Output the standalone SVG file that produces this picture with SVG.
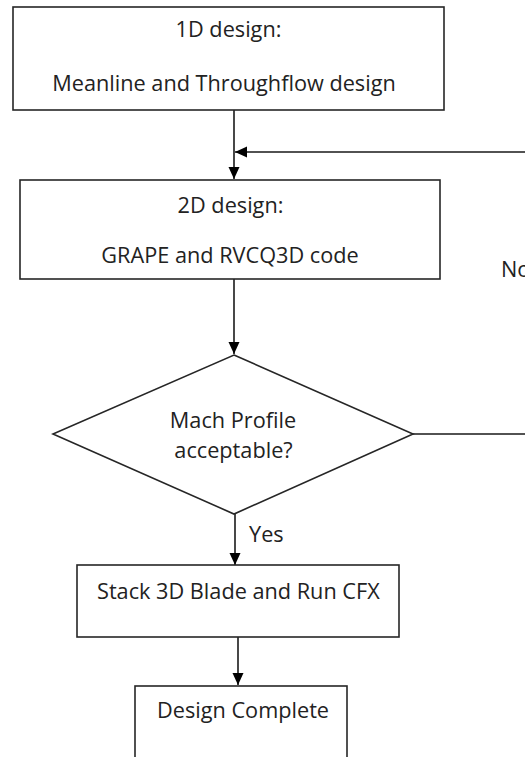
<svg xmlns="http://www.w3.org/2000/svg" width="525" height="757" viewBox="0 0 525 757">
<defs>
<style>
.box{fill:#fff;stroke:#262626;stroke-width:1.6}
.t{font-family:"Open Sans","Liberation Sans",sans-serif;font-size:21.7px;fill:#222}
.c{text-anchor:middle}
.ln{fill:none;stroke:#1a1a1a;stroke-width:1.6}
</style>
<marker id="ah" markerUnits="userSpaceOnUse" markerWidth="12" markerHeight="12" viewBox="0 0 12 12" refX="12" refY="6" orient="auto">
<path d="M0,0.5 L12,6 L0,11.5 Z" fill="#000"/>
</marker>
</defs>
<rect width="525" height="757" fill="#fff"/>
<g id="connectors">
<path class="ln" d="M234,110 V179" marker-end="url(#ah)"/>
<path class="ln" d="M413,434 H545 V152 H235" marker-end="url(#ah)"/>
<path class="ln" d="M234,279 V354" marker-end="url(#ah)"/>
<path class="ln" d="M235,514 V565" marker-end="url(#ah)"/>
<path class="ln" d="M238,637 V685" marker-end="url(#ah)"/>
<text class="t" x="249" y="542">Yes</text>
<text class="t" x="501" y="277">No</text>
</g>
<g id="n1">
<rect class="box" x="13" y="7" width="431" height="103"/>
<text class="t c" x="228.5" y="37">1D design:</text>
<text class="t c" x="224" y="91">Meanline and Throughflow design</text>
</g>
<g id="n2">
<rect class="box" x="20" y="180" width="420" height="99"/>
<text class="t c" x="230.5" y="213">2D design:</text>
<text class="t c" x="230" y="263">GRAPE and RVCQ3D code</text>
</g>
<g id="n3">
<polygon class="box" points="234,355 413,434 234,514 53,434"/>
<text class="t c" x="233" y="428">Mach Profile</text>
<text class="t c" x="233.5" y="458">acceptable?</text>
</g>
<g id="n4">
<rect class="box" x="77" y="565" width="322" height="72"/>
<text class="t" x="97" y="599">Stack 3D Blade and Run CFX</text>
</g>
<g id="n5">
<rect class="box" x="135" y="686" width="212" height="80"/>
<text class="t" x="157" y="718">Design Complete</text>
</g>
</svg>
